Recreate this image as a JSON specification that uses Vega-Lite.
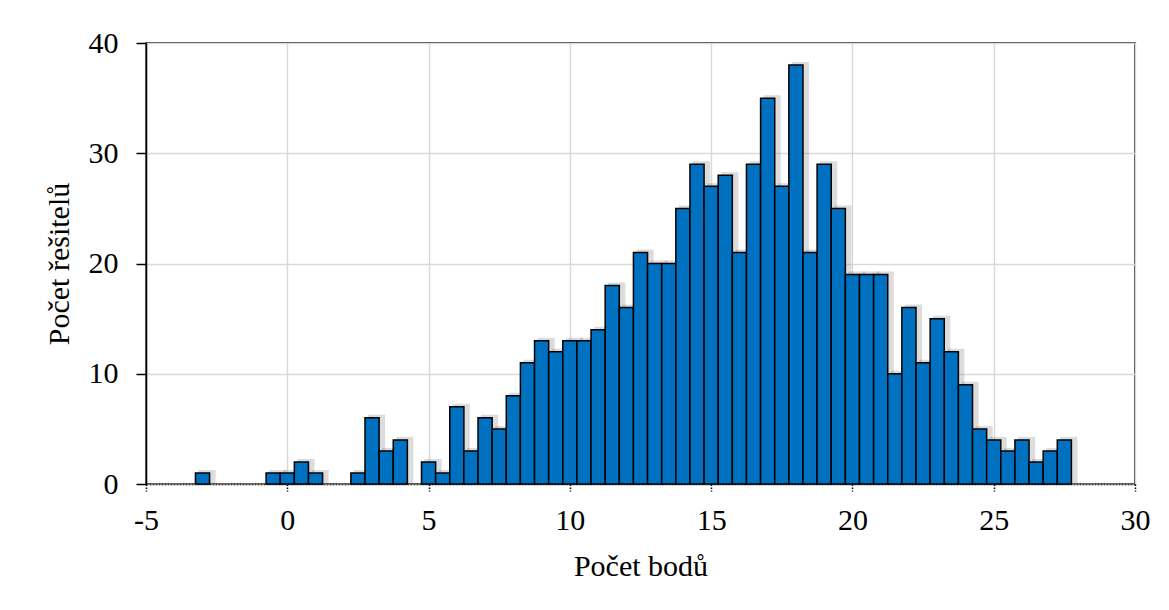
{
  "$schema": "https://vega.github.io/schema/vega-lite/v6.json",
  "width": 989,
  "height": 441,
  "autosize": {"type": "none"},
  "padding": {"left": 146, "top": 43, "right": 34, "bottom": 126},
  "background": "white",
  "data": {
    "values": [
      {"od": -3.25, "do": -2.75, "pocet": 1},
      {"od": -0.75, "do": -0.25, "pocet": 1},
      {"od": -0.25, "do": 0.25, "pocet": 1},
      {"od": 0.25, "do": 0.75, "pocet": 2},
      {"od": 0.75, "do": 1.25, "pocet": 1},
      {"od": 2.25, "do": 2.75, "pocet": 1},
      {"od": 2.75, "do": 3.25, "pocet": 6},
      {"od": 3.25, "do": 3.75, "pocet": 3},
      {"od": 3.75, "do": 4.25, "pocet": 4},
      {"od": 4.75, "do": 5.25, "pocet": 2},
      {"od": 5.25, "do": 5.75, "pocet": 1},
      {"od": 5.75, "do": 6.25, "pocet": 7},
      {"od": 6.25, "do": 6.75, "pocet": 3},
      {"od": 6.75, "do": 7.25, "pocet": 6},
      {"od": 7.25, "do": 7.75, "pocet": 5},
      {"od": 7.75, "do": 8.25, "pocet": 8},
      {"od": 8.25, "do": 8.75, "pocet": 11},
      {"od": 8.75, "do": 9.25, "pocet": 13},
      {"od": 9.25, "do": 9.75, "pocet": 12},
      {"od": 9.75, "do": 10.25, "pocet": 13},
      {"od": 10.25, "do": 10.75, "pocet": 13},
      {"od": 10.75, "do": 11.25, "pocet": 14},
      {"od": 11.25, "do": 11.75, "pocet": 18},
      {"od": 11.75, "do": 12.25, "pocet": 16},
      {"od": 12.25, "do": 12.75, "pocet": 21},
      {"od": 12.75, "do": 13.25, "pocet": 20},
      {"od": 13.25, "do": 13.75, "pocet": 20},
      {"od": 13.75, "do": 14.25, "pocet": 25},
      {"od": 14.25, "do": 14.75, "pocet": 29},
      {"od": 14.75, "do": 15.25, "pocet": 27},
      {"od": 15.25, "do": 15.75, "pocet": 28},
      {"od": 15.75, "do": 16.25, "pocet": 21},
      {"od": 16.25, "do": 16.75, "pocet": 29},
      {"od": 16.75, "do": 17.25, "pocet": 35},
      {"od": 17.25, "do": 17.75, "pocet": 27},
      {"od": 17.75, "do": 18.25, "pocet": 38},
      {"od": 18.25, "do": 18.75, "pocet": 21},
      {"od": 18.75, "do": 19.25, "pocet": 29},
      {"od": 19.25, "do": 19.75, "pocet": 25},
      {"od": 19.75, "do": 20.25, "pocet": 19},
      {"od": 20.25, "do": 20.75, "pocet": 19},
      {"od": 20.75, "do": 21.25, "pocet": 19},
      {"od": 21.25, "do": 21.75, "pocet": 10},
      {"od": 21.75, "do": 22.25, "pocet": 16},
      {"od": 22.25, "do": 22.75, "pocet": 11},
      {"od": 22.75, "do": 23.25, "pocet": 15},
      {"od": 23.25, "do": 23.75, "pocet": 12},
      {"od": 23.75, "do": 24.25, "pocet": 9},
      {"od": 24.25, "do": 24.75, "pocet": 5},
      {"od": 24.75, "do": 25.25, "pocet": 4},
      {"od": 25.25, "do": 25.75, "pocet": 3},
      {"od": 25.75, "do": 26.25, "pocet": 4},
      {"od": 26.25, "do": 26.75, "pocet": 2},
      {"od": 26.75, "do": 27.25, "pocet": 3},
      {"od": 27.25, "do": 27.75, "pocet": 4}
    ]
  },
  "encoding": {
    "x": {
      "field": "od",
      "type": "quantitative",
      "scale": {"domain": [-5, 30], "nice": false, "zero": false},
      "axis": {
        "title": "Počet bodů",
        "values": [-5, 0, 5, 10, 15, 20, 25, 30],
        "labelExpr": "toString(datum.value)",
        "labelFlush": false,
        "labelOverlap": false,
        "labelBound": false,
        "grid": true,
        "gridColor": "#d9d9d9",
        "gridWidth": 1.5,
        "domainColor": "#333333",
        "domainWidth": 1.5,
        "domainDash": [2, 1],
        "tickColor": "#000000",
        "tickSize": 7,
        "tickWidth": 1.5,
        "tickDash": [1.5, 1.5],
        "labelPadding": 14,
        "titlePadding": 16
      }
    },
    "x2": {"field": "do"},
    "y": {
      "field": "pocet",
      "type": "quantitative",
      "scale": {"domain": [0, 40], "nice": false},
      "axis": {
        "title": "Počet řešitelů",
        "values": [0, 10, 20, 30, 40],
        "labelFlush": false,
        "labelOverlap": false,
        "grid": true,
        "gridColor": "#d9d9d9",
        "gridWidth": 1.5,
        "domainColor": "#000000",
        "domainWidth": 1.5,
        "tickColor": "#000000",
        "tickSize": 10,
        "tickWidth": 1.5,
        "labelPadding": 18,
        "titlePadding": 14
      }
    },
    "y2": {"datum": 0}
  },
  "layer": [
    {
      "mark": {"type": "bar", "color": "#606060", "opacity": 0.22, "xOffset": 3, "x2Offset": 6, "yOffset": -3, "y2Offset": -1}
    },
    {
      "mark": {"type": "bar", "fill": "#0070C0", "stroke": "#000000", "strokeWidth": 1.5}
    }
  ],
  "config": {
    "font": "Liberation Serif",
    "view": {"stroke": "#000000", "strokeWidth": 1.5},
    "axis": {
      "labelFont": "Liberation Serif",
      "titleFont": "Liberation Serif",
      "labelFontSize": 30,
      "titleFontSize": 30,
      "labelColor": "#000000",
      "titleColor": "#000000",
      "titleFontWeight": "normal"
    }
  }
}
